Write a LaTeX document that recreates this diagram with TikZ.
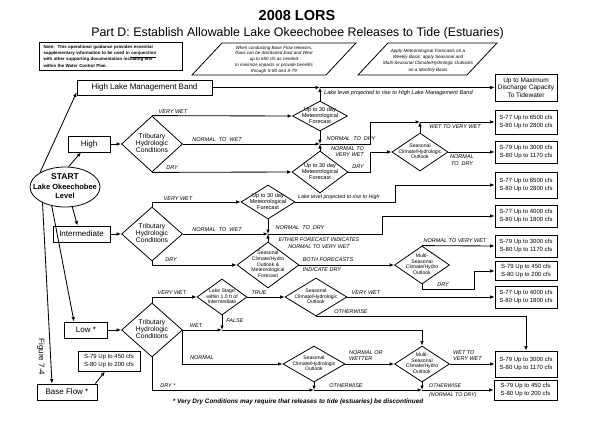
\documentclass[tikz,border=0pt]{standalone}
\usepackage{fontspec}
\setmainfont{Liberation Sans}
\usetikzlibrary{arrows.meta,shapes.geometric}
\newcommand{\myfs}[2]{\fontsize{#1}{#2}\selectfont}
\newcommand{\dtx}[1]{\makebox[0pt]{\raisebox{-0.25em}[0pt][0pt]{\begin{tabular}{@{}c@{}}#1\end{tabular}}}}
\begin{document}
\begin{tikzpicture}[x=1pt,y=-1pt,
  arr/.style={line width=0.85pt,-{Latex[length=4.5pt,width=3.6pt]}},
  box/.style={draw,line width=0.8pt,inner sep=0pt,align=center},
  rbox/.style={box,minimum width=62pt,font=\myfs{6}{7.6}},
  lbox/.style={box,minimum height=16pt,font=\myfs{8}{9}},
  dia/.style={diamond,draw,line width=0.8pt,inner sep=0pt},
  tdia/.style={dia,minimum width=61pt,minimum height=56pt,font=\myfs{6.8}{7.2}},
  mdia/.style={dia,font=\myfs{5.6}{6}},
  sdia/.style={dia,font=\myfs{5.1}{5.6}},
  lab/.style={inner sep=0pt,font=\myfs{5.5}{6.4}\itshape}]
\fill[white] (0,0) rectangle (600,442);
\useasboundingbox (0,0) rectangle (600,442);

% titles
\node[font=\myfs{14.5}{16}\bfseries] (title) at (297,16) {2008 LORS};
\node[font=\myfs{12.4}{14}] (sub) at (297.5,33) {Part D: Establish Allowable Lake Okeechobee Releases to Tide (Estuaries)};

% note and parallelograms
\node[box,minimum width=143pt,minimum height=28pt,text width=134pt,align=left,font=\myfs{4.4}{6.3}\bfseries] (note) at (110.5,56)
 {Note:\ \ This operational guidance provides essential\\supplementary information to be used in \underline{conjunction}\\with other supporting documentation including text\\within the Water Control Plan.};
\draw[line width=0.8pt] (192,75) -- (222,43) -- (356,43) -- (326,75) -- cycle;
\node[align=center,inner sep=0pt,font=\myfs{4.5}{5.8}\itshape] (p1) at (274,59.5)
 {When conducting Base Flow releases,\\flows can be distributed East and West\\up to 650 cfs as needed\\to minimize impacts or provide benefits\\through S-80 and S-79};
\draw[line width=0.8pt] (358,75) -- (388,43) -- (497,43) -- (467,75) -- cycle;
\node[align=center,inner sep=0pt,font=\myfs{4.6}{6.3}\itshape] (p2) at (428,60.5)
 {Apply Meteorological Forecasts on a\\Weekly Basis; apply Seasonal and\\Multi-Seasonal Climate/Hydrologic Outlooks\\on a Monthly Basis};

% start
\node[ellipse,draw,line width=0.8pt,minimum width=70pt,minimum height=40pt,inner sep=0pt,font=\myfs{7.5}{9.5}\bfseries] (start) at (65,187)
 {\dtx{{\myfs{8.5}{9.5}START}\\Lake Okeechobee\\Level}};

% left boxes
\node[lbox,minimum width=135pt,minimum height=15pt] (hl) at (144.5,87.5) {High Lake Management Band};
\node[lbox,minimum width=42pt] (high) at (89,144) {High};
\node[lbox,minimum width=57pt] (int) at (81.5,234) {Intermediate};
\node[lbox,minimum width=43pt] (low) at (86,330) {Low *};
\node[lbox,minimum width=60pt] (bf) at (67,392) {Base Flow *};
\node[rbox,minimum height=20pt] (bfb) at (109,361) {S-79 Up to 450 cfs\\S-80 Up to 200 cfs};

\draw[arr] (start.150) -- ([yshift=3pt]hl.south west);
\draw[arr] (start.80) -- ([xshift=-8pt]high.south);
\draw[arr] (start.-70) -- ([xshift=-4pt]int.north);
\draw[arr] (start.-125) -- ([xshift=-12pt]low.north);
\draw[arr] (start.-145) -- ([xshift=-15pt]bf.north);
\draw[arr] ([xshift=-2pt]bf.north east) -- ([xshift=-4pt]bfb.south);
\node[rotate=-90,font=\myfs{8}{9}] (fig) at (41,357) {Figure 7-4};

% right boxes
\node[rbox,minimum height=27pt,font=\myfs{6.5}{7.4}] (b1) at (526,87.5) {Up to Maximum\\Discharge Capacity\\To Tidewater};
\node[rbox,minimum height=24pt] (b2) at (526,122) {S-77 Up to 6500 cfs\\S-80 Up to 2800 cfs};
\node[rbox,minimum height=22pt] (b3) at (526,152) {S-79 Up to 3000 cfs\\S-80 Up to 1170 cfs};
\node[rbox,minimum height=26pt] (b4) at (526,185) {S-77 Up to 6500 cfs\\S-80 Up to 2800 cfs};
\node[rbox,minimum height=22pt] (b5) at (526,216) {S-77 Up to 4000 cfs\\S-80 Up to 1800 cfs};
\node[rbox,minimum height=22pt] (b6) at (526,246) {S-79 Up to 3000 cfs\\S-80 Up to 1170 cfs};
\node[rbox,minimum height=19pt] (b7) at (526,271) {S-79 Up to 450 cfs\\S-80 Up to 200 cfs};
\node[rbox,minimum height=22pt] (b8) at (526,297) {S-77 Up to 4000 cfs\\S-80 Up to 1800 cfs};
\node[rbox,minimum height=26pt] (b9) at (526,364) {S-79 Up to 3000 cfs\\S-80 Up to 1170 cfs};
\node[rbox,minimum height=20pt,minimum width=63pt] (b10) at (525.5,390) {S-79 Up to 450 cfs\\S-80 Up to 200 cfs};

% HLMB line
\coordinate (j1) at (320,87.5);
\draw[arr] (hl.east) -- (j1);
\draw[arr] (j1) -- (b1.west);
\node[lab,anchor=west,font=\myfs{5.6}{6.5}\itshape] (l1) at (324,93) {Lake level projected to rise to High Lake Management Band};

% HIGH
\node[tdia] (tH) at (152,144) {\dtx{Tributary\\Hydrologic\\Conditions}};
\draw[arr] (high.east) -- (tH.west);
\node[mdia,minimum width=55pt,minimum height=30pt] (d30a) at (320,116) {\dtx{Up to 30 day\\Meteorological\\Forecast}};
\node[mdia,minimum width=56pt,minimum height=42pt] (d30b) at (320,172) {\dtx{Up to 30 day\\Meteorological\\Forecast}};
\node[sdia,minimum width=56pt,minimum height=38pt] (sH) at (420,152) {\dtx{Seasonal\\Climate/Hydrologic\\Outlook}};
\coordinate (j2) at (320,144);
\coordinate (j3) at (420,122);
\draw[arr] (d30a.north) -- (j1);
\draw[arr] (tH.north) -- (d30a.west);
\draw[arr] (tH.east) -- (j2);
\draw[arr] (d30a.south) -- (j2);
\draw[arr] (tH.south) -- (d30b.west);
\draw[arr] (d30b.north) -- (j2);
\draw[arr] (j2) -- (370,144) -- (370,122) -- (j3);
\draw[arr] (sH.north) -- (j3);
\draw[arr] (j3) -- (b2.west);
\draw[arr] (d30b.east) -- (370,172) -- (370,152) -- (sH.west);
\draw[arr] (sH.east) -- (b3.west);
\node[lab] (lh1) at (173,112) {VERY WET};
\node[lab] (lh2) at (217,140) {NORMAL\ \ TO\ \ WET};
\node[lab] (lh3) at (172,168) {DRY};
\node[lab] (lh4) at (351,138.5) {NORMAL\ \ TO\ \ DRY};
\node[lab,align=right,anchor=north east] (lh5) at (364,146.5) {NORMAL TO\\VERY WET};
\node[lab] (lh6) at (358,167) {DRY};
\node[lab] (lh7) at (455,127) {WET TO VERY WET};
\node[lab,align=center] (lh8) at (462,160) {NORMAL\\TO\ \ DRY};

% INTERMEDIATE
\node[tdia,minimum height=54pt] (tI) at (152,234) {\dtx{Tributary\\Hydrologic\\Conditions}};
\draw[arr] (int.east) -- (tI.west);
\node[mdia,minimum width=54pt,minimum height=34pt] (d30c) at (268,202) {\dtx{Up to 30 day\\Meteorological\\Forecast}};
\node[sdia,minimum width=62pt,minimum height=46pt] (dSM) at (268,265) {\dtx{Seasonal\\Climate/Hydro\\Outlook \&\\Meteorological\\Forecast}};
\node[sdia,minimum width=55pt,minimum height=38pt] (mI) at (422,265) {\dtx{Multi-\\Seasonal\\Climate/Hydro\\Outlook}};
\coordinate (j4) at (268,234);
\draw[arr] (tI.north) |- (d30c.west);
\draw[arr] (tI.east) -- (j4);
\draw[arr] (d30c.south) -- (j4);
\draw[arr] (dSM.north) -- (j4);
\draw[arr] (tI.south) |- (dSM.west);
\draw[arr] (d30c.east) -- (395,202) -- (395,185) -- (b4.west);
\draw[arr] (j4) -- (382,234) -- (382,216) -- (b5.west);
\draw[arr] (dSM.east) -- (mI.west);
\draw[arr] (mI.north) -- (b6.west);
\draw[arr] (mI.south) -- (422,289) -- (474,289) -- (474,271) -- (b7.west);
\node[lab] (li1) at (178,199) {VERY WET};
\node[lab] (li2) at (217,230) {NORMAL\ \ TO\ \ WET};
\node[lab] (li3) at (300,228) {NORMAL\ \ TO\ \ DRY};
\node[lab,align=center,font=\myfs{5.4}{6.8}\itshape] (li4) at (319,243.5) {EITHER FORECAST INDICATES\\NORMAL TO VERY WET};
\node[lab] (li5) at (171,260) {DRY};
\node[lab] (li6) at (328,260) {BOTH FORECASTS};
\node[lab] (li7) at (322,270) {INDICATE DRY};
\node[lab,anchor=west,font=\myfs{5.3}{6.2}\itshape] (li8) at (298,197.5) {Lake level projected to rise to High};
\node[lab] (li9) at (455,241) {NORMAL TO VERY WET};
\node[lab] (li10) at (443,285) {DRY};

% LOW
\node[tdia,minimum height=54pt] (tL) at (152,330) {\dtx{Tributary\\Hydrologic\\Conditions}};
\draw[arr] (low.east) -- (tL.west);
\node[sdia,minimum width=50pt,minimum height=36pt] (dLS) at (222,297) {\dtx{Lake Stage\\within 1.0 ft of\\Intermediate}};
\node[sdia,minimum width=62pt,minimum height=38pt] (sL1) at (316,297) {\dtx{Seasonal\\Climate/Hydrologic\\Outlook}};
\node[sdia,minimum width=62pt,minimum height=36pt] (sL2) at (314,364) {\dtx{Seasonal\\Climate/Hydrologic\\Outlook}};
\node[sdia,minimum width=55pt,minimum height=36pt] (mL) at (422,364) {\dtx{Multi-\\Seasonal\\Climate/Hydro\\Outlook}};
\coordinate (jF) at (222,330);
\coordinate (jD1) at (314,390);
\coordinate (jD2) at (422,390);
\draw[arr] (tL.north) |- (dLS.west);
\draw[arr] (dLS.east) -- (sL1.west);
\draw[arr] (sL1.east) -- (b8.west);
\draw[arr] (sL1.south) -| (b9.north);
\draw[arr] (tL.east) -- (jF);
\draw[arr] (dLS.south) -- (jF);
\draw[arr] (jF) -| (mL.north);
\draw[arr] (tL.east) |- (sL2.west);
\draw[arr] (sL2.east) -- (mL.west);
\draw[arr] (mL.east) -- (b9.west);
\draw[arr] (tL.south) |- (jD1);
\draw[arr] (jD1) -- (jD2);
\draw[arr] (jD2) -- (b10.west);
\draw[arr] (sL2.south) -- (jD1);
\draw[arr] (mL.south) -- (jD2);
\node[lab] (ll1) at (172,293) {VERY WET};
\node[lab] (ll2) at (259,293) {TRUE};
\node[lab] (ll3) at (366,293) {VERY WET};
\node[lab] (ll4) at (351,312) {OTHERWISE};
\node[lab] (ll5) at (235,321) {FALSE};
\node[lab] (ll6) at (196,326) {WET};
\node[lab] (ll7) at (202,358) {NORMAL};
\node[lab,align=left,anchor=west] (ll8) at (349,355.5) {NORMAL OR\\WETTER};
\node[lab] (ll9) at (346,385.5) {OTHERWISE};
\node[lab,align=left,anchor=west] (ll10) at (453,355.5) {WET TO\\VERY WET};
\node[lab,align=left,anchor=west,font=\myfs{5.3}{9}\itshape] (ll11) at (429,390.5) {OTHERWISE\\(NORMAL TO DRY)};
\node[lab] (ll12) at (168,386) {DRY *};

\node[font=\myfs{6.4}{7}\bfseries\itshape] (fn) at (298,402) {* Very Dry Conditions may require that releases to tide (estuaries) be discontinued};
\end{tikzpicture}
\end{document}
